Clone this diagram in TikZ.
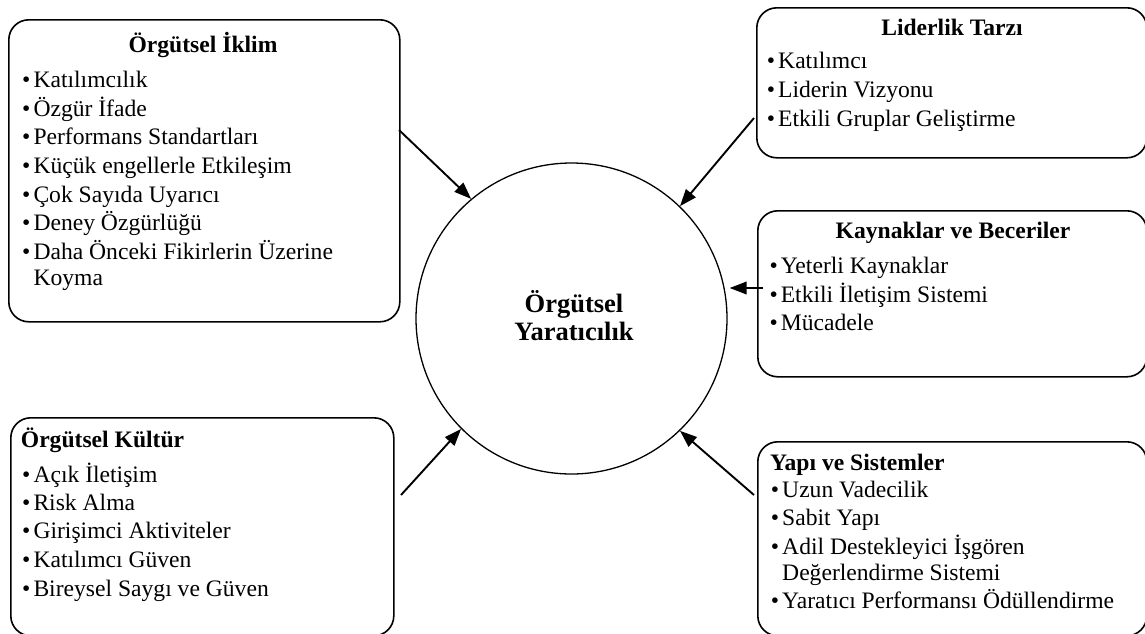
\documentclass[tikz,border=0pt]{standalone}
\usepackage{fontspec}
\setmainfont{Liberation Serif}
\usetikzlibrary{arrows.meta}

\newcommand\lstfont{\fontsize{23.6}{28.8}\selectfont}
\newcommand\hubfont{\fontsize{26.5}{28}\selectfont\bfseries}
% one bullet item: name, x of bullet, baseline y, text
\newcommand\bulitem[4]{%
  \node[txt] (#1-dot) at (#2,#3) {•};
  \node[txt] (#1) at (#2+11.3,#3) {#4};}

\begin{document}
\begin{tikzpicture}[x=1pt,y=-1pt,
  box/.style={draw,line width=1.6pt,rounded corners=20pt,inner sep=0pt,
    anchor=north west},
  txt/.style={anchor=base west,inner sep=0pt,font=\lstfont},
  ttl/.style={anchor=base,inner sep=0pt,font=\lstfont\bfseries},
  arr/.style={line width=1.9pt,-{Triangle[length=17pt,width=12.5pt]}}]
\useasboundingbox (0,0) rectangle (1145,633);

% central concept
\node[circle,draw,line width=1.3pt,minimum size=311pt,inner sep=0pt]
  (c) at (571.5,318.5) {};
\node[anchor=base,inner sep=0pt,font=\hubfont] (c1) at (574,312) {Örgütsel};
\node[anchor=base,inner sep=0pt,font=\hubfont] (c2) at (574,340) {Yaratıcılık};

% frames of the five factor groups
\node[box,minimum width=391pt,minimum height=302pt] (b1) at (8,19) {};
\node[box,minimum width=390pt,minimum height=150pt] (b2) at (756,7) {};
\node[box,minimum width=389pt,minimum height=166pt] (b3) at (757,210) {};
\node[box,minimum width=383pt,minimum height=218pt] (b4) at (10,417) {};
\node[box,minimum width=389pt,minimum height=194pt] (b5) at (757,441) {};

% Örgütsel İklim
\node[ttl] (t1) at (203,52) {Örgütsel İklim};
\bulitem{a1}{22}{87}{Katılımcılık}
\bulitem{a2}{22}{116}{Özgür İfade}
\bulitem{a3}{22}{144.5}{Performans Standartları}
\bulitem{a4}{22}{173.3}{Küçük engellerle Etkileşim}
\bulitem{a5}{22}{202}{Çok Sayıda Uyarıcı}
\bulitem{a6}{22}{230.7}{Deney Özgürlüğü}
\bulitem{a7}{22}{259.3}{Daha Önceki Fikirlerin Üzerine}
\node[txt] (a7b) at (33.3,285.5) {Koyma};

% Liderlik Tarzı
\node[ttl] (t2) at (952,35) {Liderlik Tarzı};
\bulitem{l1}{766.7}{68}{Katılımcı}
\bulitem{l2}{766.7}{97}{Liderin Vizyonu}
\bulitem{l3}{766.7}{126.5}{Etkili Gruplar Geliştirme}

% Kaynaklar ve Beceriler
\node[ttl] (t3) at (953,238) {Kaynaklar ve Beceriler};
\bulitem{k1}{769.3}{273}{Yeterli Kaynaklar}
\bulitem{k2}{769.3}{302}{Etkili İletişim Sistemi}
\bulitem{k3}{769.3}{330}{Mücadele}

% Örgütsel Kültür
\node[ttl,anchor=base west] (t4) at (20.7,447) {Örgütsel Kültür};
\bulitem{o1}{22}{482}{Açık İletişim}
\bulitem{o2}{22}{510}{Risk Alma}
\bulitem{o3}{22}{538.5}{Girişimci Aktiviteler}
\bulitem{o4}{22}{567}{Katılımcı Güven}
\bulitem{o5}{22}{596}{Bireysel Saygı ve Güven}

% Yapı ve Sistemler
\node[ttl,anchor=base west] (t5) at (770,470) {Yapı ve Sistemler};
\bulitem{y1}{770.7}{497}{Uzun Vadecilik}
\bulitem{y2}{770.7}{525}{Sabit Yapı}
\bulitem{y3}{770.7}{554}{Adil Destekleyici İşgören}
\node[txt] (y3b) at (782,580) {Değerlendirme Sistemi};
\bulitem{y4}{770.7}{608}{Yaratıcı Performansı Ödüllendirme}

% arrows into the central concept
\coordinate (s1) at (399,130);
\coordinate (s2) at (754,118);
\coordinate (s3) at (763,288);
\coordinate (s4) at (401,495);
\coordinate (s5) at (754,495);
\draw[arr] (s1) -- (c.130.9);
\draw[arr] (s2) -- (c.46.5);
\draw[arr,shorten >=2pt] (s3) -- (s3 -| c.east);
\draw[arr] (s4) -- (c.225.8);
\draw[arr] (s5) -- (c.314.2);
\end{tikzpicture}
\end{document}
